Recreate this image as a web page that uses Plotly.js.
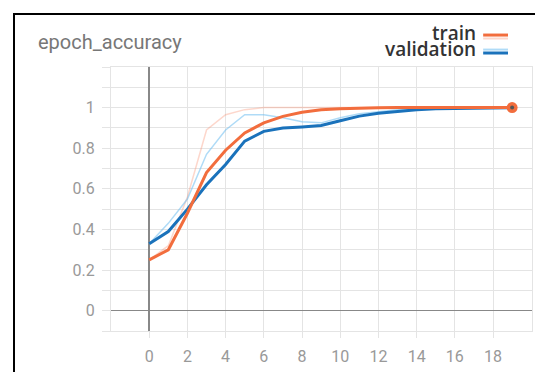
<!DOCTYPE html>
<html><head><meta charset="utf-8">
<script src="https://cdn.plot.ly/plotly-3.0.1.min.js"></script>
<style>
html,body{margin:0;padding:0;background:#fff;overflow:hidden}
#chart{width:535px;height:372px}
#frame{position:absolute;left:13px;top:13px;width:700px;height:600px;border:2px solid #000;pointer-events:none}
</style></head><body>
<div id="chart"></div><div id="frame"></div>
<script>
const epochs = [0,1,2,3,4,5,6,7,8,9,10,11,12,13,14,15,16,17,18,19];
const trainSmooth = [0.25,0.30,0.48,0.68,0.79,0.875,0.925,0.957,0.977,0.99,0.995,0.998,0.999,1,1,1,1,1,1,1];
const valSmooth   = [0.33,0.39,0.50,0.62,0.72,0.835,0.883,0.90,0.905,0.912,0.935,0.958,0.972,0.982,0.99,0.995,0.997,0.999,1,1];
const trainRaw    = [0.25,0.32,0.56,0.89,0.965,0.99,1,1,1,1,1,1,1,1,1,1,1,1,1,1];
const valRaw      = [0.33,0.43,0.55,0.77,0.89,0.965,0.965,0.95,0.93,0.925,0.95,0.97,0.98,0.99,0.995,1,1,1,1,1];
const seriesNames = ['train','validation'];
const yTicks = [0,0.2,0.4,0.6,0.8,1];
const yTickText = ['0','0.2','0.4','0.6','0.8','1'];
const xTicks = [0,2,4,6,8,10,12,14,16,18];

const ORANGE = '#f26d3d', BLUE = '#1a72bb';
const ORANGE_FAINT = 'rgba(250,140,110,0.35)', BLUE_FAINT = 'rgba(110,190,240,0.55)';
const last = epochs.length - 1;
const traces = [
  {x:epochs,y:trainRaw,mode:'lines',line:{color:ORANGE_FAINT,width:1.5},hoverinfo:'skip'},
  {x:epochs,y:valRaw,mode:'lines',line:{color:BLUE_FAINT,width:1.5},hoverinfo:'skip'},
  {x:epochs,y:valSmooth,mode:'lines',line:{color:BLUE,width:3}},
  {x:epochs,y:trainSmooth,mode:'lines',line:{color:ORANGE,width:3}},
  {x:[epochs[last]],y:[trainSmooth[last]],mode:'markers',marker:{color:ORANGE,size:11}},
  {x:[epochs[last]],y:[trainSmooth[last]],mode:'markers',marker:{color:'#555',size:4}}
];
const GRID = '#e4e4e4';
const legendFont = {size:19,color:'#333',family:'Open Sans, sans-serif',weight:600};
const layout = {
  width:535,height:372,
  margin:{l:111,r:3,t:67,b:41},
  paper_bgcolor:'#fff',plot_bgcolor:'#fff',
  showlegend:false,
  font:{family:'Roboto, sans-serif',color:'#999'},
  xaxis:{range:[-2,20.04],tickvals:xTicks,showgrid:true,gridcolor:GRID,gridwidth:1,
    zeroline:true,zerolinecolor:'#888',zerolinewidth:1.5,
    ticks:'outside',ticklen:6,tickcolor:GRID,ticklabelstandoff:5,
    showline:true,linecolor:GRID,mirror:true,
    tickfont:{size:16,color:'#999'}},
  yaxis:{range:[-0.1,1.2],tickvals:yTicks,ticktext:yTickText,showgrid:true,gridcolor:GRID,gridwidth:1,
    minor:{dtick:0.1,showgrid:true,gridcolor:GRID,ticks:'outside',ticklen:8,tickcolor:GRID},
    zeroline:true,zerolinecolor:'#888',zerolinewidth:1.5,
    ticks:'outside',ticklen:8,tickcolor:GRID,ticklabelstandoff:4,
    showline:true,linecolor:GRID,mirror:true,
    tickfont:{size:16,color:'#999'}},
  annotations:[
    {text:'epoch_accuracy',xref:'paper',yref:'paper',x:-0.178,y:1.095,xanchor:'left',yanchor:'middle',
      showarrow:false,font:{size:20,color:'#777',family:'Roboto, sans-serif'}},
    {text:seriesNames[0],xref:'paper',yref:'paper',x:0.872,y:1.13,xanchor:'right',yanchor:'middle',
      showarrow:false,font:legendFont},
    {text:seriesNames[1],xref:'paper',yref:'paper',x:0.872,y:1.067,xanchor:'right',yanchor:'middle',
      showarrow:false,font:legendFont}
  ],
  shapes:[
    {type:'line',xref:'paper',yref:'paper',x0:0.884,x1:0.943,y0:1.121,y1:1.121,line:{color:ORANGE,width:3}},
    {type:'line',xref:'paper',yref:'paper',x0:0.884,x1:0.943,y0:1.108,y1:1.108,line:{color:'rgba(250,140,110,0.35)',width:2}},
    {type:'line',xref:'paper',yref:'paper',x0:0.884,x1:0.943,y0:1.066,y1:1.066,line:{color:BLUE_FAINT,width:2}},
    {type:'line',xref:'paper',yref:'paper',x0:0.884,x1:0.943,y0:1.053,y1:1.053,line:{color:BLUE,width:3}}
  ]
};
Plotly.newPlot('chart',traces,layout,{displayModeBar:false,staticPlot:true});
</script></body></html>
